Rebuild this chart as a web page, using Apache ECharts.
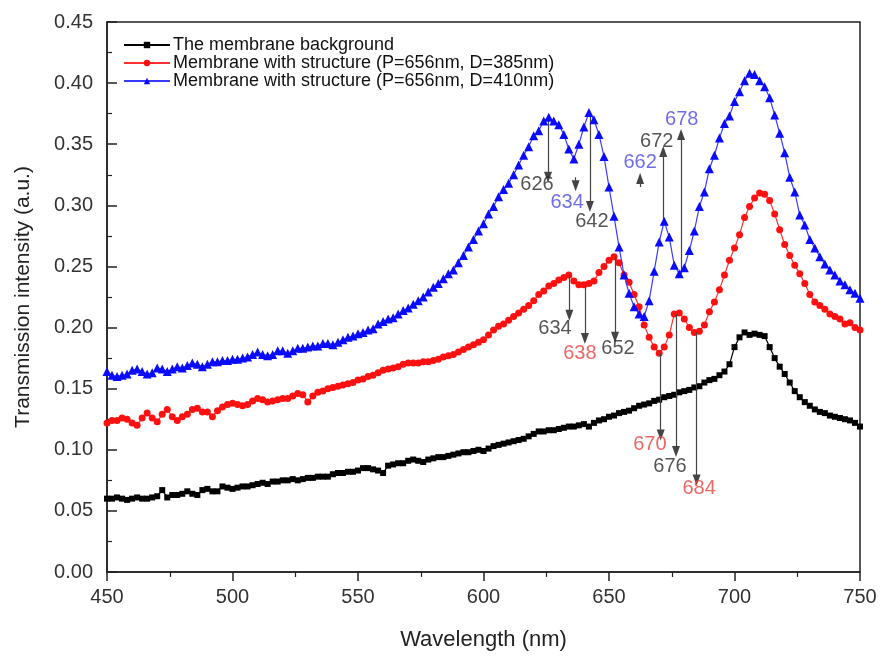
<!DOCTYPE html>
<html>
<head>
<meta charset="utf-8">
<script src="https://cdn.jsdelivr.net/npm/echarts@6/dist/echarts.min.js"></script>
<style>html,body{margin:0;padding:0;background:#fff}#c{width:883px;height:662px}</style>
</head>
<body>
<div id="c"></div>
<script>
const wavelengths = [450,452,454,456,458,460,462,464,466,468,470,472,474,476,478,480,482,484,486,488,490,492,494,496,498,500,502,504,506,508,510,512,514,516,518,520,522,524,526,528,530,532,534,536,538,540,542,544,546,548,550,552,554,556,558,560,562,564,566,568,570,572,574,576,578,580,582,584,586,588,590,592,594,596,598,600,602,604,606,608,610,612,614,616,618,620,622,624,626,628,630,632,634,636,638,640,642,644,646,648,650,652,654,656,658,660,662,664,666,668,670,672,674,676,678,680,682,684,686,688,690,692,694,696,698,700,702,704,706,708,710,712,714,716,718,720,722,724,726,728,730,732,734,736,738,740,742,744,746,748,750];

const backgroundValues = [0.060,0.060,0.061,0.060,0.059,0.060,0.061,0.060,0.060,0.061,0.062,0.067,0.061,0.063,0.063,0.064,0.066,0.064,0.063,0.067,0.068,0.066,0.066,0.070,0.069,0.068,0.069,0.070,0.070,0.071,0.072,0.073,0.072,0.074,0.074,0.075,0.075,0.076,0.075,0.076,0.077,0.077,0.078,0.078,0.078,0.080,0.081,0.081,0.082,0.082,0.083,0.085,0.085,0.084,0.083,0.081,0.087,0.088,0.089,0.089,0.091,0.092,0.091,0.090,0.092,0.093,0.094,0.094,0.095,0.096,0.097,0.098,0.098,0.099,0.100,0.099,0.101,0.103,0.104,0.105,0.106,0.107,0.108,0.109,0.111,0.113,0.115,0.115,0.116,0.116,0.117,0.118,0.119,0.119,0.120,0.121,0.119,0.122,0.124,0.125,0.127,0.128,0.130,0.131,0.132,0.134,0.136,0.137,0.138,0.140,0.141,0.143,0.144,0.145,0.147,0.148,0.149,0.151,0.152,0.155,0.157,0.158,0.161,0.164,0.170,0.184,0.192,0.196,0.194,0.195,0.194,0.193,0.184,0.175,0.168,0.162,0.155,0.148,0.143,0.139,0.136,0.133,0.131,0.130,0.128,0.127,0.126,0.125,0.124,0.122,0.119];

const d385Values = [0.122,0.124,0.124,0.126,0.125,0.122,0.120,0.126,0.130,0.126,0.123,0.129,0.133,0.127,0.124,0.127,0.129,0.133,0.134,0.131,0.131,0.127,0.132,0.135,0.137,0.138,0.137,0.136,0.137,0.140,0.142,0.141,0.139,0.140,0.141,0.142,0.142,0.144,0.146,0.145,0.139,0.144,0.147,0.148,0.150,0.151,0.152,0.153,0.154,0.155,0.157,0.158,0.160,0.161,0.163,0.165,0.166,0.167,0.168,0.170,0.171,0.171,0.171,0.172,0.172,0.173,0.174,0.176,0.177,0.178,0.180,0.182,0.184,0.186,0.188,0.190,0.194,0.198,0.201,0.203,0.206,0.209,0.212,0.215,0.218,0.222,0.227,0.230,0.234,0.236,0.239,0.241,0.243,0.238,0.235,0.235,0.236,0.238,0.245,0.250,0.255,0.258,0.253,0.243,0.237,0.227,0.217,0.202,0.192,0.184,0.179,0.184,0.194,0.211,0.212,0.207,0.200,0.196,0.197,0.202,0.213,0.221,0.231,0.243,0.255,0.265,0.276,0.290,0.299,0.306,0.310,0.309,0.304,0.293,0.280,0.268,0.259,0.251,0.244,0.236,0.227,0.221,0.218,0.215,0.211,0.209,0.207,0.203,0.204,0.200,0.198];

const d410Values = [0.164,0.161,0.160,0.161,0.162,0.165,0.166,0.164,0.162,0.163,0.167,0.166,0.164,0.166,0.168,0.167,0.169,0.171,0.170,0.168,0.170,0.172,0.172,0.173,0.173,0.174,0.174,0.175,0.176,0.178,0.180,0.178,0.177,0.178,0.181,0.181,0.179,0.181,0.183,0.183,0.184,0.185,0.185,0.187,0.187,0.186,0.188,0.190,0.192,0.193,0.195,0.196,0.198,0.199,0.203,0.205,0.207,0.208,0.211,0.214,0.216,0.219,0.222,0.225,0.229,0.233,0.236,0.240,0.244,0.247,0.253,0.259,0.266,0.272,0.279,0.285,0.293,0.299,0.307,0.313,0.318,0.325,0.333,0.341,0.348,0.357,0.361,0.369,0.372,0.369,0.366,0.358,0.346,0.338,0.350,0.364,0.376,0.370,0.358,0.340,0.315,0.291,0.266,0.243,0.228,0.217,0.211,0.209,0.222,0.246,0.270,0.287,0.274,0.251,0.244,0.249,0.263,0.279,0.299,0.311,0.330,0.341,0.355,0.367,0.373,0.385,0.393,0.402,0.408,0.407,0.402,0.397,0.388,0.374,0.359,0.343,0.323,0.311,0.292,0.284,0.272,0.265,0.258,0.252,0.247,0.243,0.238,0.235,0.231,0.228,0.224];

const seriesNames = ['The membrane background','Membrane with structure (P=656nm, D=385nm)','Membrane with structure (P=656nm, D=410nm)'];
const yTickLabels = ['0.00','0.05','0.10','0.15','0.20','0.25','0.30','0.35','0.40','0.45'];
const xTickLabels = ['450','500','550','600','650','700','750'];

// annotation arrows: wavelength position, start value, tip value
const arrowX     = [625.7, 636.7, 642.4, 662.4, 671.6, 678.7, 634.2, 640.4, 652.4, 670.6, 676.7, 684.9];
const arrowFrom  = [0.370, 0.323, 0.376, 0.315, 0.287, 0.244, 0.243, 0.235, 0.258, 0.179, 0.211, 0.196];
const arrowTo    = [0.323, 0.316, 0.299, 0.322, 0.344, 0.358, 0.210, 0.191, 0.192, 0.112, 0.0985, 0.0753];
// annotation labels: text, wavelength, value, colour group
const annText  = ['626','634','642','662','672','678','634','638','652','670','676','684'];
const annX     = [621.3, 633.3, 643.2, 662.4, 669.0, 679.0, 628.5, 638.4, 653.6, 666.3, 674.3, 685.9];
const annY     = [0.3167, 0.302, 0.2864, 0.3347, 0.352, 0.370, 0.1996, 0.179, 0.183, 0.104, 0.086, 0.0687];
const annGroup = ['k','b','k','b','k','b','k','r','k','r','k','r'];

const groupColor = {k:'#2a2a2a', b:'#4a4ae6', r:'#e8413f'};
const FONT = '"Liberation Sans", Arial, sans-serif';

function pairs(vals){ return wavelengths.map((w,i)=>[w, vals[i]]); }

const arrowLines = arrowX.map((x,i)=>[{coord:[x, arrowFrom[i]]},{coord:[x, arrowTo[i]]}]);
const annData = annText.map((t,i)=>({value:[annX[i], annY[i]], name:t, label:{color:groupColor[annGroup[i]]}}));

const chart = echarts.init(document.getElementById('c'), null, {renderer:'canvas'});
chart.setOption({
  animation:false,
  backgroundColor:'#fff',
  textStyle:{fontFamily:FONT},
  grid:{left:107, right:23, top:22, bottom:90, containLabel:false, outerBoundsMode:'none',
        show:true, borderColor:'#222', borderWidth:1.5, backgroundColor:'transparent'},
  legend:{
    orient:'vertical', left:118, top:31, itemGap:0, itemWidth:46, itemHeight:8,
    data:seriesNames.map(n=>({name:n})),
    textStyle:{fontFamily:FONT, fontSize:18, color:'#111', padding:[0,0,0,-2]}
  },
  xAxis:{
    type:'value', min:450, max:750, interval:50,
    name:'Wavelength (nm)', nameLocation:'middle', nameGap:57,
    nameTextStyle:{fontFamily:FONT, fontSize:22, color:'#222'},
    axisLine:{show:true, onZero:false, lineStyle:{color:'#222', width:1.5}},
    axisTick:{show:true, inside:false, length:9, lineStyle:{color:'#222', width:1.5}},
    minorTick:{show:true, splitNumber:2, length:5, lineStyle:{color:'#222', width:1.2}},
    axisLabel:{fontFamily:FONT, fontSize:20, color:'#333', margin:15,
      formatter:(v)=>{const s=String(v); return xTickLabels.indexOf(s)>=0?s:'';}},
    splitLine:{show:false}
  },
  yAxis:{
    type:'value', min:0, max:0.45, interval:0.05,
    name:'Transmission intensity (a.u.)', nameLocation:'middle', nameGap:73,
    nameTextStyle:{fontFamily:FONT, fontSize:21, color:'#222'},
    axisLine:{show:true, lineStyle:{color:'#222', width:1.5}},
    axisTick:{show:true, inside:true, length:10, lineStyle:{color:'#222', width:1.5}},
    minorTick:{show:true, splitNumber:2, length:5, lineStyle:{color:'#222', width:1.2}},
    axisLabel:{fontFamily:FONT, fontSize:20, color:'#333', margin:14,
      formatter:(v)=>yTickLabels[Math.round(v/0.05)]},
    splitLine:{show:false}
  },
  series:[
    {name:seriesNames[0], type:'line', data:pairs(backgroundValues), symbol:'rect', symbolSize:6,
     itemStyle:{color:'#000'}, lineStyle:{color:'#000', width:1.2}, z:3},
    {name:seriesNames[1], type:'line', data:pairs(d385Values), symbol:'circle', symbolSize:7,
     itemStyle:{color:'#ff1010'}, lineStyle:{color:'#ff3030', width:1.2}, z:4},
    {name:seriesNames[2], type:'line', data:pairs(d410Values), symbol:'triangle', symbolSize:9,
     itemStyle:{color:'#0a0aff'}, lineStyle:{color:'#3a3aff', width:1.2}, z:5},
    {name:'arrows', type:'line', data:[], silent:true, z:6,
     markLine:{silent:true, symbol:['none','triangle'], symbolSize:[8,11],
       lineStyle:{color:'#444', width:1.2, type:'solid'}, label:{show:false},
       emphasis:{disabled:true}, data:arrowLines}},
    {name:'labels', type:'scatter', data:annData, symbolSize:0, silent:true, z:7,
     label:{show:true, position:'inside', formatter:'{b}', fontFamily:FONT, fontSize:20}}
  ]
});
</script>
</body>
</html>
